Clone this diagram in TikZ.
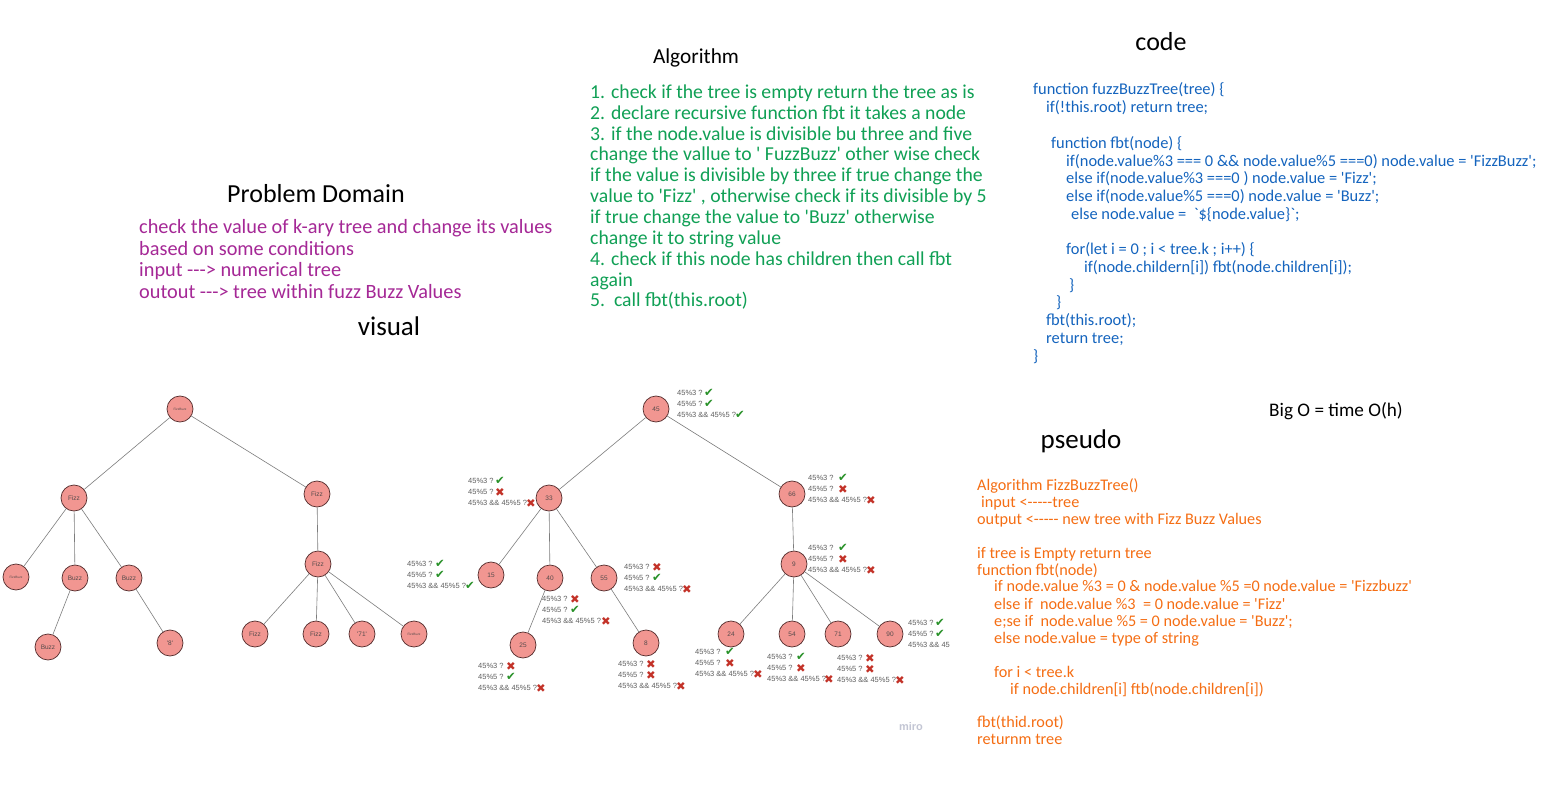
\documentclass[tikz,border=0pt]{standalone}
\usepackage{fontspec}
\newfontfamily\hand{Carlito}
\newfontfamily\lab{Liberation Sans}
\newfontfamily\sym{DejaVu Sans}
\definecolor{purp}{RGB}{165,40,150}
\definecolor{algreen}{RGB}{16,160,85}
\definecolor{codeblue}{RGB}{20,100,190}
\definecolor{psorange}{RGB}{245,110,20}
\definecolor{nodefill}{RGB}{241,150,145}
\definecolor{nodeedge}{RGB}{85,45,45}
\definecolor{edgegray}{RGB}{125,125,125}
\definecolor{labgray}{RGB}{85,75,75}
\definecolor{anngray}{RGB}{95,95,95}
\definecolor{ckgreen}{RGB}{40,145,40}
\definecolor{xred}{RGB}{195,50,40}
\definecolor{mirogray}{RGB}{195,198,212}
\newcommand{\ck}{\textcolor{ckgreen}{\sym ✔}}
\newcommand{\xx}{\textcolor{xred}{\sym ✖}}
\tikzset{
  tn/.style={circle, draw=nodeedge, fill=nodefill, line width=0.7pt, minimum size=26pt,
    inner sep=0pt, text=labgray, font=\lab\fontsize{6.5}{7}\selectfont},
  tnsmall/.style={tn, font=\lab\fontsize{3.2}{4}\selectfont},
  edge/.style={draw=edgegray, line width=0.6pt},
  ln/.style={anchor=base west, inner sep=0pt},
  probln/.style={ln, text=purp, font=\hand\fontsize{20.3}{22}\selectfont},
  algln/.style={ln, text=algreen, font=\hand\fontsize{19.7}{21}\selectfont},
  codeln/.style={ln, text=codeblue, font=\hand\fontsize{16.4}{18}\selectfont},
  psln/.style={ln, text=psorange, font=\hand\fontsize{16.2}{18}\selectfont},
  title/.style={anchor=base, inner sep=0pt, text=black},
  anntext/.style={anchor=west, inner sep=0pt, text=anngray, font=\lab\fontsize{7.5}{8}\selectfont},
  annmark/.style={inner sep=0pt, font=\fontsize{11.5}{12}\selectfont},
}
% name, x, y, mark1, mark2, mark3, dx12, dx3
\newcommand{\annot}[8]{%
  \node[anntext] (#1a) at (#2,#3) {45\%3 ?};
  \node[anntext] (#1b) at (#2,{#3+11}) {45\%5 ?};
  \node[anntext] (#1c) at (#2,{#3+22}) {45\%3 \&\& 45\%5 ?};
  \node[annmark] (#1p) at ({#2+#7},#3) {#4};
  \node[annmark] (#1q) at ({#2+#7},{#3+11}) {#5};
  \node[annmark] (#1r) at ({#2+#8},{#3+22}) {#6};
}
\begin{document}
\begin{tikzpicture}[x=1pt,y=-1pt]
\fill[white] (0,0) rectangle (1545,802);
\useasboundingbox (0,0) rectangle (1545,802);

% ---------- titles ----------
\node[title, font=\hand\fontsize{26}{28}\selectfont] (tprob) at (316,203) {Problem Domain};
\node[title, font=\hand\fontsize{27}{28}\selectfont] (tvis) at (389,336) {visual};
\node[title, font=\hand\fontsize{21.3}{24}\selectfont] (talg) at (696,64) {Algorithm};
\node[title, font=\hand\fontsize{26}{28}\selectfont] (tcode) at (1161,51) {code};
\node[title, font=\hand\fontsize{27}{28}\selectfont] (tpseudo) at (1081,448) {pseudo};
\node[title, font=\hand\fontsize{19.2}{22}\selectfont] (tbigo) at (1336,416) {Big O = time O(h)};

% ---------- problem domain ----------
\node[probln] (p1) at (139,234) {check the value of k-ary tree and change its values};
\node[probln] (p2) at (139,256) {based on some conditions};
\node[probln] (p3) at (139,277) {input ---> numerical tree};
\node[probln] (p4) at (139,299) {outout ---> tree within fuzz Buzz Values};

% ---------- algorithm ----------
\node[algln] (a1) at (590,99) {1. check if the tree is empty return the tree as is};
\node[algln] (a2) at (590,120) {2. declare recursive function fbt it takes a node};
\node[algln] (a3) at (590,141) {3. if the node.value is divisible bu three and five};
\node[algln] (a4) at (590,161) {change the vallue to ' FuzzBuzz' other wise check};
\node[algln] (a5) at (590,182) {if the value is divisible by three if true change the};
\node[algln] (a6) at (590,203) {value to 'Fizz' , otherwise check if its divisible by 5};
\node[algln] (a7) at (590,224) {if true change the value to 'Buzz' otherwise};
\node[algln] (a8) at (590,245) {change it to string value};
\node[algln] (a9) at (590,266) {4. check if this node has children then call fbt};
\node[algln] (a10) at (590,287) {again};
\node[algln] (a11) at (590,307) {5.\ \ call fbt(this.root)};

% ---------- code ----------
\node[codeln] (c1) at (1033,95) {function fuzzBuzzTree(tree) \{};
\node[codeln] (c2) at (1046,113) {if(!this.root) return tree;};
\node[codeln] (c4) at (1051,149) {function fbt(node) \{};
\node[codeln] (c5) at (1066,167) {if(node.value\%3 === 0 \&\& node.value\%5 ===0) node.value = 'FizzBuzz';};
\node[codeln] (c6) at (1066,184) {else if(node.value\%3 ===0 ) node.value = 'Fizz';};
\node[codeln] (c7) at (1066,202) {else if(node.value\%5 ===0) node.value = 'Buzz';};
\node[codeln] (c8) at (1071,220) {else node.value = \ `\$\{node.value\}`;};
\node[codeln] (c10) at (1066,255) {for(let i = 0 ; i < tree.k ; i++) \{};
\node[codeln] (c11) at (1084,273) {if(node.childern[i]) fbt(node.children[i]);};
\node[codeln] (c12) at (1069,291) {\}};
\node[codeln] (c13) at (1056,308) {\}};
\node[codeln] (c14) at (1046,326) {fbt(this.root);};
\node[codeln] (c15) at (1046,344) {return tree;};
\node[codeln] (c16) at (1033,361) {\}};

% ---------- pseudo ----------
\node[psln] (s1) at (977,490) {Algorithm FizzBuzzTree()};
\node[psln] (s2) at (981,507) {input <-----tree};
\node[psln] (s3) at (977,524) {output <----- new tree with Fizz Buzz Values};
\node[psln] (s4) at (977,558) {if tree is Empty return tree};
\node[psln] (s5) at (977,575) {function fbt(node)};
\node[psln] (s6) at (994,591) {if node.value \%3 = 0 \& node.value \%5 =0 node.value = 'Fizzbuzz'};
\node[psln] (s7) at (994,609) {else if \ node.value \%3 \ = 0 node.value = 'Fizz'};
\node[psln] (s8) at (994,626) {e;se if \ node.value \%5 = 0 node.value = 'Buzz';};
\node[psln] (s9) at (994,643) {else node.value = type of string};
\node[psln] (s10) at (994,677) {for i < tree.k};
\node[psln] (s11) at (1010,694) {if node.children[i] ftb(node.children[i])};
\node[psln] (s12) at (977,727) {fbt(thid.root)};
\node[psln] (s13) at (977,744) {returnm tree};

% ---------- left tree (result) ----------
\node[tnsmall] (L0) at (180,409) {FizzBuzz};
\node[tn] (L1) at (74,498) {Fizz};
\node[tn] (L2) at (317,494) {Fizz};
\node[tnsmall] (L11) at (16,577) {FizzBuzz};
\node[tn] (L12) at (75,578) {Buzz};
\node[tn] (L13) at (129,578) {Buzz};
\node[tn] (L121) at (48,647) {Buzz};
\node[tn] (L131) at (170,643) {'8'};
\node[tn] (L21) at (318,564) {Fizz};
\node[tn] (L211) at (255,634) {Fizz};
\node[tn] (L212) at (316,634) {Fizz};
\node[tn] (L213) at (362,634) {'71'};
\node[tnsmall] (L214) at (414,634) {FizzBuzz};
\foreach \a/\b in {L0/L1, L0/L2, L1/L11, L1/L12, L1/L13, L12/L121, L13/L131,
  L2/L21, L21/L211, L21/L212, L21/L213, L21/L214}
  \draw[edge] (\a) -- (\b);

% ---------- middle tree (input) ----------
\node[tn] (M45) at (656,409) {45};
\node[tn] (M33) at (549,498) {33};
\node[tn] (M66) at (792,494) {66};
\node[tn] (M15) at (491,575) {15};
\node[tn] (M40) at (550,578) {40};
\node[tn] (M55) at (604,578) {55};
\node[tn] (M25) at (523,645) {25};
\node[tn] (M8) at (646,643) {8};
\node[tn] (M9) at (794,564) {9};
\node[tn] (M24) at (731,634) {24};
\node[tn] (M54) at (792,634) {54};
\node[tn] (M71) at (838,634) {71};
\node[tn] (M90) at (890,634) {90};
\foreach \a/\b in {M45/M33, M45/M66, M33/M15, M33/M40, M33/M55, M40/M25, M55/M8,
  M66/M9, M9/M24, M9/M54, M9/M71, M9/M90}
  \draw[edge] (\a) -- (\b);

% ---------- annotations ----------
\annot{n45}{677}{393}{\ck}{\ck}{\ck}{32}{63}
\annot{n33}{468}{481}{\ck}{\xx}{\xx}{32}{63}
\annot{n15}{407}{564}{\ck}{\ck}{\ck}{33}{63}
\annot{n55}{624}{567}{\xx}{\ck}{\xx}{33}{63}
\annot{n40}{542}{599}{\xx}{\ck}{\xx}{33}{64}
\annot{n25}{478}{666}{\xx}{\ck}{\xx}{33}{63}
\annot{n8}{618}{664}{\xx}{\xx}{\xx}{33}{63}
\annot{n66}{808}{478}{\ck}{\xx}{\xx}{35}{63}
\annot{n9}{808}{548}{\ck}{\xx}{\xx}{35}{63}
\annot{n24}{695}{652}{\ck}{\xx}{\xx}{35}{63}
\annot{n54}{767}{657}{\ck}{\xx}{\xx}{34}{62}
\annot{n71}{837}{658}{\xx}{\xx}{\xx}{33}{63}
\node[anntext] (n90a) at (908,623) {45\%3 ?};
\node[anntext] (n90b) at (908,634) {45\%5 ?};
\node[anntext] (n90c) at (908,645) {45\%3 \&\& 45};
\node[annmark] (n90p) at (940,623) {\ck};
\node[annmark] (n90q) at (940,634) {\ck};

% ---------- miro ----------
\node[inner sep=0pt, text=mirogray, font=\lab\bfseries\fontsize{11}{12}\selectfont] (miro) at (911,727) {miro};
\end{tikzpicture}
\end{document}
